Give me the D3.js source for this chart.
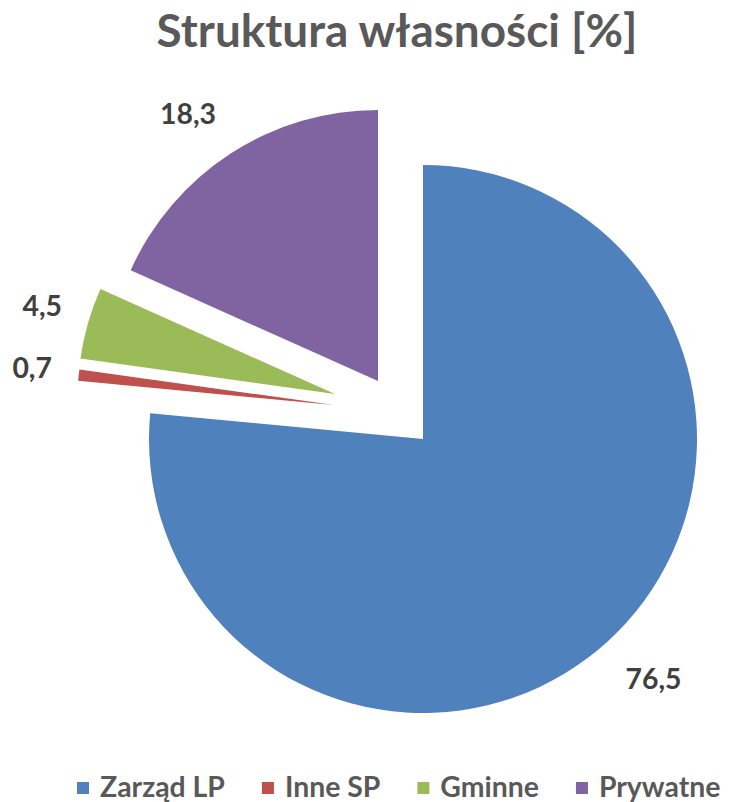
<!DOCTYPE html>
<html>
<head>
<meta charset="utf-8">
<title>Struktura własności</title>
<script src="https://d3js.org/d3.v7.min.js"></script>
<style>
  body { margin: 0; background: #fff; }
  text { font-family: Lato, "Open Sans", sans-serif; font-weight: bold; }
</style>
</head>
<body>
<div id="chart"></div>
<script>
// data
const categories = ["Zarząd LP", "Inne SP", "Gminne", "Prywatne"];
const values = [76.5, 0.7, 4.5, 18.3];
const colors = ["#4F81BD", "#C0504D", "#9BBB59", "#8064A2"];
const title = "Struktura własności [%]";

// slice explosion (px offset of apex) and radius, per slice
const explode = [[0, 0], [-89, -34], [-88, -45], [-45, -58]];
const radii = [274, 257, 257, 271];

const width = 737, height = 802;
const cx = 423, cy = 439;

const svg = d3.select("#chart").append("svg")
  .attr("width", width)
  .attr("height", height);

// fit a text element's font size to a target width
function fit(sel, target, start) {
  sel.style("font-size", start + "px");
  const w = sel.node().getComputedTextLength();
  const fs = start * target / w;
  sel.style("font-size", fs + "px");
  return fs;
}

// title
const t = svg.append("text")
  .attr("x", 397)
  .attr("y", 47)
  .attr("text-anchor", "middle")
  .attr("fill", "#595959")
  .text(title);
fit(t, 481, 40);

const fmt = d3.formatLocale({decimal: ",", thousands: " ", grouping: [3], currency: ["", ""]}).format(".1f");

const pie = d3.pie().sort(null).value(d => d.value);
const arcs = pie(categories.map((c, i) => ({name: c, value: values[i], i: i})));

const g = svg.append("g").attr("transform", `translate(${cx},${cy})`);

g.selectAll("path")
  .data(arcs)
  .enter()
  .append("path")
  .attr("transform", d => `translate(${explode[d.index][0]},${explode[d.index][1]})`)
  .attr("d", d => d3.arc().innerRadius(0).outerRadius(radii[d.index])(d))
  .attr("fill", d => colors[d.index]);

// data labels, outside end
const labelSize = (function () {
  const tmp = svg.append("text").text(fmt(76.5));
  const fs = fit(tmp, 56, 28);
  tmp.remove();
  return fs;
})();

g.selectAll("text.lbl")
  .data(arcs)
  .enter()
  .append("text")
  .attr("class", "lbl")
  .attr("fill", "#404040")
  .style("font-size", labelSize + "px")
  .attr("text-anchor", "middle")
  .text(d => fmt(d.data.value))
  .each(function (d) {
    const mid = (d.startAngle + d.endAngle) / 2;
    const dx = Math.sin(mid), dy = -Math.cos(mid);
    const r = radii[d.index] + 27;
    const px = explode[d.index][0] + dx * r;
    const py = explode[d.index][1] + dy * r;
    const bb = this.getBBox();
    const kx = Math.max(-1, Math.min(1, dx * 2));
    const ky = Math.max(-1, Math.min(1, dy * 2));
    const bx = px + kx * bb.width / 2;
    const by = py + ky * bb.height / 2;
    d3.select(this)
      .attr("x", bx)
      .attr("y", by)
      .attr("dy", "0.36em");
  });

// legend
const legend = svg.append("g").attr("transform", "translate(77,787)");
let lx = 0;
const legendSize = (function () {
  const tmp = svg.append("text").text(categories[0]);
  const fs = fit(tmp, 125, 24);
  tmp.remove();
  return fs;
})();
categories.forEach((c, i) => {
  const item = legend.append("g").attr("transform", `translate(${lx},0)`);
  item.append("rect")
    .attr("x", 0).attr("y", -5)
    .attr("width", 12).attr("height", 12)
    .attr("fill", colors[i]);
  const tx = item.append("text")
    .attr("x", 23)
    .attr("y", 0)
    .attr("dy", "0.36em")
    .attr("fill", "#595959")
    .style("font-size", legendSize + "px")
    .text(c);
  lx += 23 + tx.node().getComputedTextLength() + 37;
});
</script>
</body>
</html>
